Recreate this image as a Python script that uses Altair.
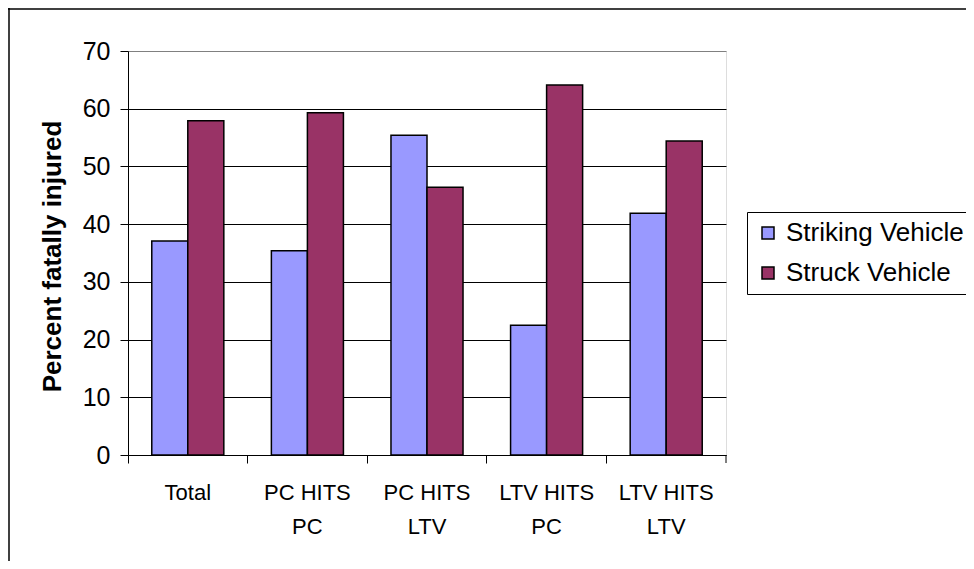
import altair as alt
import pandas as pd

categories = ["Total", "PC HITS\nPC", "PC HITS\nLTV", "LTV HITS\nPC", "LTV HITS\nLTV"]
series = ["Striking Vehicle", "Struck Vehicle"]
striking = [37.1, 35.4, 55.4, 22.5, 41.9]
struck = [57.9, 59.3, 46.4, 64.1, 54.4]
colors = ["#9999FF", "#993366"]
y_ticks = [0, 10, 20, 30, 40, 50, 60, 70]

rows = []
for c, a, b in zip(categories, striking, struck):
    rows.append({"cat": c, "series": series[0], "value": a})
    rows.append({"cat": c, "series": series[1], "value": b})
df = pd.DataFrame(rows)

W, H = 598, 404
FONT = "Liberation Sans"

bars = alt.Chart(df).mark_bar(stroke="black", strokeWidth=1.5).encode(
    x=alt.X("cat:N", sort=categories, title=None,
            scale=alt.Scale(paddingInner=0, paddingOuter=0),
            axis=alt.Axis(bandPosition=0, labelOffset=0, labelAngle=0,
                          labelExpr="split(datum.label, '\\n')",
                          labelFont=FONT, labelFontSize=22, labelColor="black",
                          labelLineHeight=34, labelBaseline="top", labelPadding=19,
                          tickSize=8, tickColor="black", domainColor="black",
                          domainWidth=1, tickWidth=1, grid=False)),
    xOffset=alt.XOffset("series:N", sort=series,
                        scale=alt.Scale(paddingOuter=0.66, paddingInner=0)),
    y=alt.Y("value:Q", title="Percent fatally injured",
            scale=alt.Scale(domain=[0, 70], nice=False, zero=True),
            axis=alt.Axis(values=y_ticks, labelFont=FONT, labelFontSize=25,
                          labelColor="black", labelPadding=10,
                          tickSize=8, tickColor="black", domainColor="black",
                          grid=True,
                          gridColor={"condition": {"test": "datum.value === 70", "value": "#808080"},
                                     "value": "black"},
                          gridWidth=1,
                          titleFont=FONT, titleFontSize=26, titleFontWeight="bold",
                          titleColor="black", titleX=-76, titleY=205,
                          titleAngle=-90, titleBaseline="middle", titleAlign="center")),
    color=alt.Color("series:N", sort=series,
                    scale=alt.Scale(domain=series, range=colors),
                    legend=alt.Legend(orient="none", legendX=619, legendY=161, title=None,
                                      strokeColor="black", fillColor="white",
                                      padding=8, rowPadding=14,
                                      symbolType="square", symbolSize=144,
                                      symbolStrokeColor="black", symbolStrokeWidth=1.5,
                                      labelFont=FONT, labelFontSize=26, labelColor="black",
                                      labelOffset=5, labelLimit=400)),
)

deco = pd.DataFrame({"k": [0]})
end_tick = alt.Chart(deco).mark_rule(color="black", strokeWidth=1).encode(
    x=alt.value(W), y=alt.value(H), y2=alt.value(H + 8))
top_border = alt.Chart(deco).mark_rule(color="black", strokeWidth=1.5).encode(
    x=alt.value(-120), x2=alt.value(840), y=alt.value(-42))
left_border = alt.Chart(deco).mark_rule(color="black", strokeWidth=1.5).encode(
    x=alt.value(-119), y=alt.value(-43), y2=alt.value(520))

chart = alt.layer(bars, end_tick, top_border, left_border).properties(
    width=W, height=H,
    autosize=alt.AutoSizeParams(type="none"),
    padding={"left": 120, "top": 43, "right": 240, "bottom": 106},
).configure_view(fill="#C0C0C0", stroke="#808080", strokeWidth=1.5
).configure(background="white")

chart.save("out.html", embed_options={"renderer": "svg", "actions": False})
